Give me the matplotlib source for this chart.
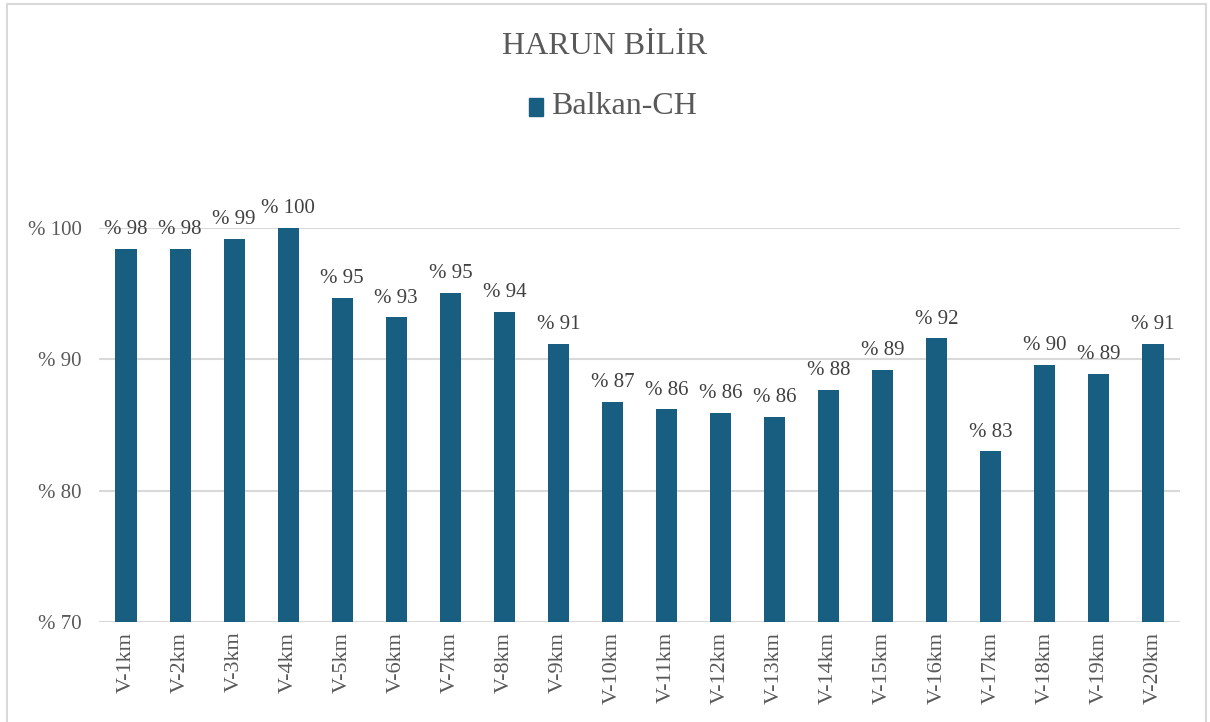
import matplotlib
matplotlib.use('Agg')
import matplotlib.pyplot as plt
import numpy as np

plt.rcParams['font.family'] = ['Liberation Serif', 'DejaVu Serif']

categories = [f'V-{i}km' for i in range(1, 21)]
values = [98.4, 98.4, 99.2, 100.0, 94.7, 93.2, 95.05, 93.6, 91.2, 86.75,
          86.2, 85.9, 85.6, 87.7, 89.2, 91.6, 83.0, 89.6, 88.9, 91.2]
yticks = [70, 80, 90, 100]

BAR = '#175e80'
TXT = '#595959'
GRID = '#d9d9d9'

fig = plt.figure(figsize=(12.1, 7.22), dpi=100)
ax = fig.add_axes([99 / 1210, 1 - 622 / 722, 1081 / 1210, 394 / 722])

# light chart-area border like the Excel export
fig.patches.append(plt.Rectangle((7 / 1210, -0.02), 1199 / 1210, 1 - 4 / 722 + 0.02,
                                 transform=fig.transFigure, fill=False,
                                 edgecolor='#d9d9d9', lw=1.5))

x = np.arange(len(categories))
ax.bar(x, values, width=0.39, color=BAR, zorder=3)
for xi, v in zip(x, values):
    ax.annotate(f'% {round(v):d}', (xi, v), textcoords='offset points',
                xytext=(0, 7), ha='center', va='bottom', fontsize=15,
                color='#404040', clip_on=False, zorder=4)

ax.set_xlim(-0.5, len(categories) - 0.5)
ax.set_ylim(70, 100)
ax.set_yticks(yticks)
ax.set_yticklabels([f'% {t}' for t in yticks], fontsize=15, color=TXT)
ax.set_xticks(x)
ax.set_xticklabels(categories, rotation=90, fontsize=16, color=TXT)
ax.tick_params(length=0)
ax.tick_params(axis='x', pad=7)
ax.tick_params(axis='y', pad=12.5)
ax.grid(axis='y', color=GRID, lw=1.5, zorder=0)
for s in ax.spines.values():
    s.set_visible(False)

fig.text(0.5, 1 - 46 / 722, 'HARUN BİLİR', ha='center', va='center',
         fontsize=23, color=TXT)
# legend
fig.patches.append(plt.Rectangle((529 / 1210, 1 - 116 / 722), 14 / 1210, 18 / 722,
                                 transform=fig.transFigure, color=BAR))
fig.text(551 / 1210, 1 - 106 / 722, 'Balkan-CH', ha='left', va='center',
         fontsize=23, color=TXT)

fig.savefig('out.png', dpi=100)
